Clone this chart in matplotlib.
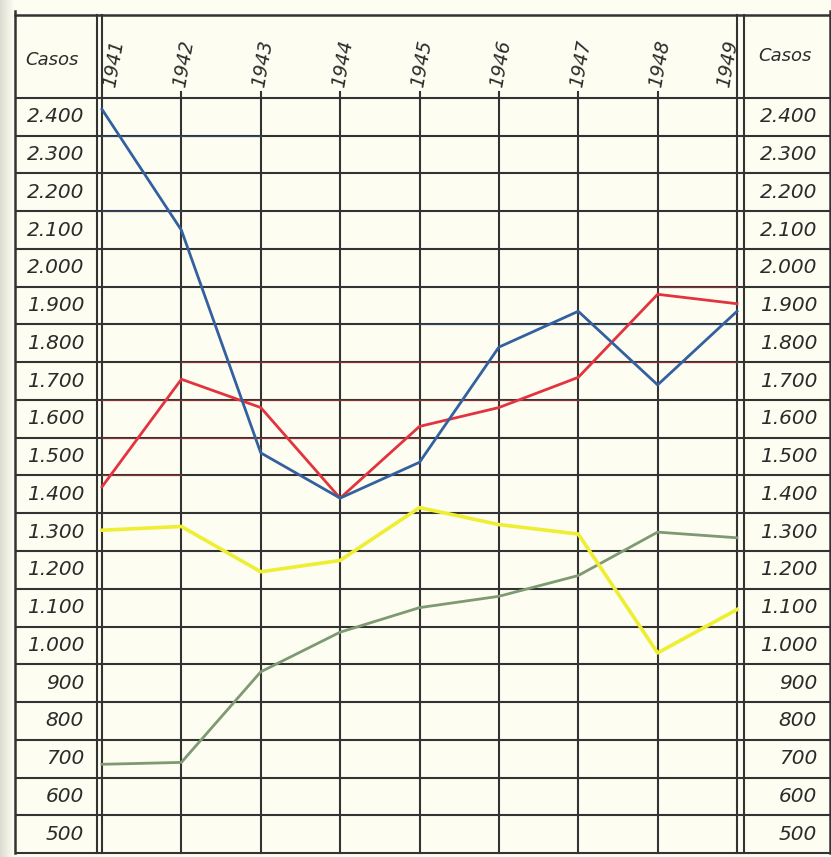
import numpy as np
import matplotlib.pyplot as plt

# values (casos per year)
years = list(range(1941, 1950))
blue = [2420, 2100, 1510, 1390, 1485, 1790, 1885, 1690, 1885]
red = [1420, 1705, 1630, 1390, 1580, 1630, 1710, 1930, 1905]
yellow = [1305, 1315, 1195, 1225, 1365, 1320, 1295, 980, 1095]
green = [685, 690, 930, 1035, 1100, 1130, 1185, 1300, 1285]
row_values = list(range(2400, 400, -100))
row_labels = ['2.400', '2.300', '2.200', '2.100', '2.000', '1.900', '1.800',
              '1.700', '1.600', '1.500', '1.400', '1.300', '1.200', '1.100',
              '1.000', '900', '800', '700', '600', '500']
header = 'Casos'

# page geometry (pixel -> data helpers)
W, H = 831, 857
def px_x(px):
    return 1941 + (px - 102) / 79.375

def px_y(py):
    return 2450 - (py - 98) * 100 / 37.75

paper = '#fdfdf1'
ink = '#333333'
c_blue = '#33609e'
c_red = '#e2333f'
c_yellow = '#eeee33'
c_green = '#7d9a72'

fig = plt.figure(figsize=(W / 100, H / 100), dpi=100, facecolor=paper)
ax = fig.add_axes([0, 0, 1, 1])
ax.set_xlim(px_x(0), px_x(W))
ax.set_ylim(px_y(H), px_y(0))
ax.axis('off')

# scanner shadow on the left edge
grad = np.linspace(0, 1, 50).reshape(1, -1)
ax.imshow(grad, extent=[px_x(0), px_x(14), px_y(H), px_y(0)], aspect='auto',
          cmap=plt.matplotlib.colors.LinearSegmentedColormap.from_list('s', ['#dcdcd2', paper]),
          zorder=0)

left, right = px_x(15), px_x(830)
top, bottom = px_y(15), px_y(853)
lw = 1.5

# horizontal rules (cell borders)
for v in np.arange(450, 2451, 100):
    ax.plot([left, right], [v, v], color=ink, lw=lw, zorder=1, solid_capstyle='butt')
ax.plot([left, px_x(W)], [top, top], color=ink, lw=1.8, zorder=1)

# coloured guide tints on some rules
tints = [(1950, 1948, 1949, c_red), (1850, 1945, 1949, c_blue),
         (1750, 1942, 1949, c_red), (1650, 1941, 1947, c_red),
         (1550, 1941, 1945, c_red), (1450, 1941, 1942, c_red),
         (2350, 1941, 1943, c_blue), (2150, 1941, 1942, c_blue)]
for v, a, b, c in tints:
    ax.plot([a, b], [v, v], color=c, lw=1.0, alpha=0.45, zorder=1.5)

# vertical rules
for yr in years[1:-1]:
    ax.plot([yr, yr], [bottom, px_y(92)], color=ink, lw=lw, zorder=1)
for x in [px_x(97), 1941, 1949, px_x(744)]:
    ax.plot([x, x], [bottom, top], color=ink, lw=lw, zorder=1)
ax.plot([left, left], [bottom, px_y(11)], color=ink, lw=1.8, zorder=1)
ax.plot([right, right], [bottom, px_y(11)], color=ink, lw=1.8, zorder=1)

# series
ax.plot(years, green, color=c_green, lw=2.0, zorder=3)
ax.plot(years, yellow, color=c_yellow, lw=2.6, zorder=3)
ax.plot(years, red, color=c_red, lw=2.0, zorder=4)
ax.plot(years, blue, color=c_blue, lw=2.0, zorder=4)

# row labels on both sides
tk = dict(fontsize=14.5, style='italic', color='#2b2b2b', va='center', ha='right')
for v, lab in zip(row_values, row_labels):
    ax.text(px_x(84), v, lab, **tk)
    ax.text(px_x(817), v, lab, **tk)

# header
ax.text(px_x(52), px_y(60), header, fontsize=13, style='italic', color='#2b2b2b',
        ha='center', va='center')
ax.text(px_x(785), px_y(56), header, fontsize=13, style='italic', color='#2b2b2b',
        ha='center', va='center')
shift = {1941: 0.15, 1949: -0.12}
for yr in years:
    ax.text(yr + shift.get(yr, 0.03), px_y(89), str(yr), fontsize=13.5, style='italic',
            color='#2b2b2b', rotation=80, ha='center', va='bottom')

fig.savefig('out.png', dpi=100, facecolor=paper)
